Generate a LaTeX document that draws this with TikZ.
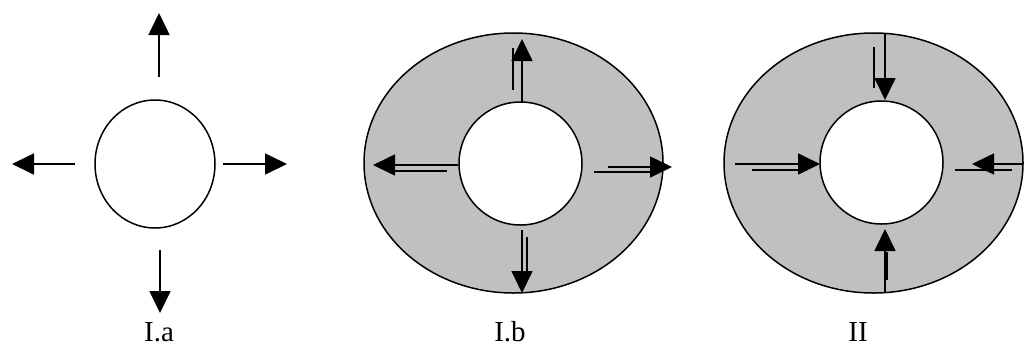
\documentclass[tikz,border=0pt]{standalone}
\usepackage{fontspec}
\setmainfont{Liberation Serif}
\usetikzlibrary{arrows.meta,shapes.geometric}
\definecolor{ringgray}{RGB}{192,192,192}
\tikzset{
  ring/.style={ellipse,draw,line width=1.5pt,fill=ringgray,minimum width=299pt,minimum height=260pt,inner sep=0pt},
  hole/.style={circle,draw,line width=1.5pt,fill=white,minimum size=123pt,inner sep=0pt},
  flow/.style={line width=1.7pt,-{Triangle[length=22pt,width=21pt]}},
  guide/.style={line width=1.7pt},
  caption/.style={anchor=base,inner sep=0pt,font=\fontsize{29}{33}\selectfont}
}
\begin{document}
\begin{tikzpicture}[x=1pt,y=-1pt]
\useasboundingbox (0,0) rectangle (1024,349);

% ---- I.a : free body with outward arrows
\node[ellipse,draw,line width=1.5pt,minimum width=120pt,minimum height=128pt,inner sep=0pt] (ia) at (155,164) {};
\coordinate (iaU1) at (159,77);  \coordinate (iaU2) at (159,13);
\coordinate (iaD1) at (160,250); \coordinate (iaD2) at (160,313);
\coordinate (iaL1) at (75,164);  \coordinate (iaL2) at (12,164);
\coordinate (iaR1) at (223,164); \coordinate (iaR2) at (287,164);
\draw[flow] (iaU1) -- (iaU2);
\draw[flow] (iaD1) -- (iaD2);
\draw[flow] (iaL1) -- (iaL2);
\draw[flow] (iaR1) -- (iaR2);
\node[caption] (capia) at (159,341) {I.a};

% ---- I.b : ring with outward arrows
\node[ring] (ibOut) at (513.5,163) {};
\node[hole] (ibIn) at (520.5,163.5) {};
\coordinate (ibU1) at (522,102); \coordinate (ibU2) at (522,39);
\coordinate (ibu1) at (513,48);  \coordinate (ibu2) at (513,90);
\coordinate (ibR1) at (608,167); \coordinate (ibR2) at (672,167);
\coordinate (ibr1) at (594,172); \coordinate (ibr2) at (652,172);
\coordinate (ibD1) at (522,230); \coordinate (ibD2) at (522,293);
\coordinate (ibd1) at (527,237); \coordinate (ibd2) at (527,273);
\coordinate (ibL1) at (458,165); \coordinate (ibL2) at (373,165);
\coordinate (ibl1) at (393,171); \coordinate (ibl2) at (447,171);
\draw[flow] (ibU1) -- (ibU2);  \draw[guide] (ibu1) -- (ibu2);
\draw[flow] (ibR1) -- (ibR2);  \draw[guide] (ibr1) -- (ibr2);
\draw[flow] (ibD1) -- (ibD2);  \draw[guide] (ibd1) -- (ibd2);
\draw[flow] (ibL1) -- (ibL2);  \draw[guide] (ibl1) -- (ibl2);
\node[caption] (capib) at (510,341) {I.b};

% ---- II : ring with inward arrows
\node[ring] (iiOut) at (873.5,163) {};
\node[hole] (iiIn) at (881.5,162.5) {};
\coordinate (iiT1) at (885,34);   \coordinate (iiT2) at (885,100);
\coordinate (iit1) at (874,47);   \coordinate (iit2) at (874,88);
\coordinate (iiL1) at (735,164);  \coordinate (iiL2) at (820,164);
\coordinate (iil1) at (752,170);  \coordinate (iil2) at (807,170);
\coordinate (iiR1) at (1023,164); \coordinate (iiR2) at (972,164);
\coordinate (iir1) at (955,170);  \coordinate (iir2) at (1012,170);
\coordinate (iiB1) at (885,292);  \coordinate (iiB2) at (885,229);
\coordinate (iib1) at (887,252);  \coordinate (iib2) at (887,280);
\draw[flow] (iiT1) -- (iiT2);  \draw[guide] (iit1) -- (iit2);
\draw[flow] (iiL1) -- (iiL2);  \draw[guide] (iil1) -- (iil2);
\draw[flow] (iiR1) -- (iiR2);  \draw[guide] (iir1) -- (iir2);
\draw[flow] (iiB1) -- (iiB2);  \draw[guide] (iib1) -- (iib2);
\node[caption] (capii) at (858,341) {II};
\end{tikzpicture}
\end{document}
